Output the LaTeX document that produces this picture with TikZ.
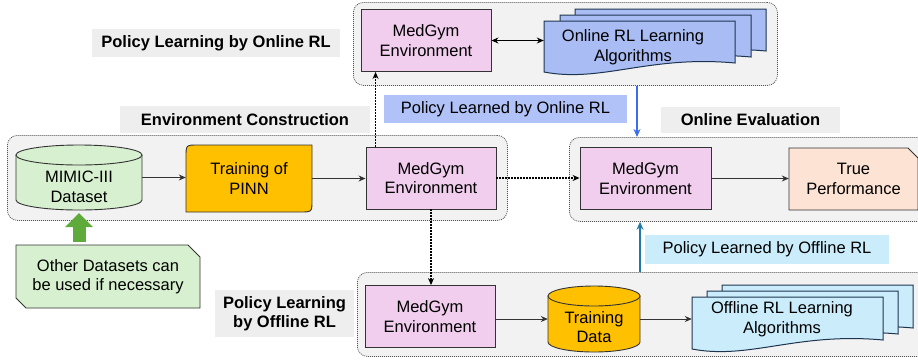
\documentclass[tikz,border=0pt]{standalone}
\usepackage{fontspec}
\setmainfont{Liberation Sans}
\usetikzlibrary{arrows.meta,calc}
\definecolor{pinkc}{HTML}{F2CEEE}
\definecolor{orangec}{HTML}{FFC000}
\definecolor{greenl}{HTML}{D7F1D0}
\definecolor{docblue}{HTML}{A9BCF4}
\definecolor{polblue}{HTML}{B1C2F8}
\definecolor{cyanl}{HTML}{CBEDFB}
\definecolor{peach}{HTML}{FCE3D4}
\definecolor{grpfill}{HTML}{F2F2F2}
\definecolor{labfill}{HTML}{EEEEEE}
\definecolor{linec}{HTML}{333333}
\definecolor{docline}{HTML}{1E3550}
\definecolor{arrblue}{HTML}{3C6CF0}
\definecolor{arrteal}{HTML}{1F78A8}
\definecolor{garrowc}{HTML}{5EAA3A}
\definecolor{grpline}{HTML}{555555}
\newcommand\myNfont{\fontsize{16.5}{19.5}\selectfont}
\newcommand\myBfont{\fontsize{16.5}{19.5}\selectfont\bfseries}
\newcommand\docpage[5]{%
  \pgfmathsetmacro\dXa{#1}\pgfmathsetmacro\dXb{#1+#3}%
  \pgfmathsetmacro\dYb{#2+#4}%
  \pgfmathsetmacro\dXc{#1+0.55*#3}\pgfmathsetmacro\dXd{#1+0.3*#3}%
  \filldraw[docsty, fill=#5] (\dXa,#2) -- (\dXb,#2) -- (\dXb,\dYb-11)
    .. controls (\dXc,\dYb-19) and (\dXd,\dYb+9) .. (\dXa,\dYb-2) -- cycle;}
\newcommand\drawcyl[6]{%
  \pgfmathsetmacro\cLx{#1}\pgfmathsetmacro\cRx{#1+#3}\pgfmathsetmacro\cCx{#1+#3/2}%
  \pgfmathsetmacro\cTy{#2+#5}\pgfmathsetmacro\cBy{#2+#4-#5}%
  \pgfmathsetmacro\cRr{#3/2}\pgfmathsetmacro\cK{0.5523*#5}\pgfmathsetmacro\cKx{0.5523*#3/2}%
  \filldraw[cylsty, fill=#6] (\cLx,\cTy) -- (\cLx,\cBy)
    .. controls (\cLx,\cBy+\cK) and (\cCx-\cKx,\cBy+#5) .. (\cCx,\cBy+#5)
    .. controls (\cCx+\cKx,\cBy+#5) and (\cRx,\cBy+\cK) .. (\cRx,\cBy) -- (\cRx,\cTy) -- cycle;
  \filldraw[cylsty, fill=#6] (\cCx,\cTy) ellipse [x radius=\cRr pt, y radius=#5 pt];}
\tikzset{
  grp/.style={draw=grpline, line width=0.8pt, dash pattern=on 1pt off 1pt, rounded corners=10pt, fill=grpfill, inner sep=0pt, anchor=north west},
  mg/.style={draw=linec, line width=0.9pt, fill=pinkc, minimum width=130pt, minimum height=62pt, align=center, font=\myNfont, inner sep=0pt},
  txt/.style={align=center, font=\myNfont, inner sep=0pt},
  geo/.style={inner sep=0pt},
  lab/.style={fill=labfill, align=center, font=\myBfont, inner sep=0pt},
  shp/.style={draw=linec, line width=0.9pt},
  docsty/.style={draw=docline, line width=1pt},
  cylsty/.style={draw=linec, line width=0.9pt},
  arr/.style={draw=linec, line width=0.9pt, -{Stealth[length=7pt,width=6pt]}},
  dblarr/.style={draw=black, line width=0.9pt, {Stealth[length=7pt,width=6pt]}-{Stealth[length=7pt,width=6pt]}},
  dotarr/.style={draw=black, line width=1.5pt, dash pattern=on 1.5pt off 1.5pt, -{Stealth[length=7pt,width=6pt]}},
  bluearr/.style={draw=arrblue, line width=1.2pt, -{Stealth[length=8pt,width=7pt]}},
  tealarr/.style={draw=arrteal, line width=1.2pt, -{Stealth[length=8pt,width=7pt]}},
  greenarr/.style={draw=garrowc, line width=13pt, -{Triangle[length=14pt,width=28pt,line width=0pt]}},
}
\begin{document}
\begin{tikzpicture}[x=1pt,y=-1pt]
\useasboundingbox (0,0) rectangle (918,360);
\clip (0,0) rectangle (918,360);
% groups
\node[grp, minimum width=424pt, minimum height=83pt] (topgrp) at (353,2) {};
\node[grp, minimum width=500pt, minimum height=85pt] (envgrp) at (7,135) {};
\node[grp, minimum width=370pt, minimum height=84pt] (evalgrp) at (569,137) {};
\node[grp, minimum width=580pt, minimum height=84pt] (botgrp) at (357,272) {};
% labels
\node[lab, minimum width=248pt, minimum height=28pt] (lab1) at (216,43) {Policy Learning by Online RL};
\node[lab, minimum width=250pt, minimum height=27pt] (lab2) at (245,119.5) {Environment Construction};
\node[lab, minimum width=179pt, minimum height=26pt] (lab3) at (750.5,120) {Online Evaluation};
\node[lab, minimum width=139pt, minimum height=47pt] (lab4) at (284.5,313.5) {Policy Learning\\by Offline RL};
\node[txt, fill=polblue, minimum width=243pt, minimum height=28pt] (pol1) at (505.5,109) {Policy Learned by Online RL};
\node[txt, fill=cyanl, minimum width=244pt, minimum height=29pt] (pol2) at (767,249.5) {Policy Learned by Offline RL};
% MedGym boxes
\node[mg] (topmg) at (426,40.5) {MedGym\\Environment};
\node[mg] (midmg) at (431,178) {MedGym\\Environment};
\node[mg, minimum width=131pt] (evalmg) at (645.5,178.5) {MedGym\\Environment};
\node[mg] (botmg) at (430,316.5) {MedGym\\Environment};
% online docs
\docpage{575}{9}{191}{53}{docblue}
\docpage{560}{15}{191}{53}{docblue}
\docpage{544}{21}{191}{53}{docblue}
\node[geo, minimum width=191pt, minimum height=44pt] (onldoc) at (639.5,43) {};
\node[txt] (onltxt) at (633,47) {Online RL Learning\\Algorithms};
% offline docs
\docpage{722}{285}{191}{54}{cyanl}
\docpage{707}{291}{191}{54}{cyanl}
\docpage{692}{297}{191}{54}{cyanl}
\node[geo, minimum width=191pt, minimum height=44pt] (offdoc) at (787.5,319) {};
\node[txt] (offtxt) at (782,319) {Offline RL Learning\\Algorithms};
% MIMIC cylinder
\drawcyl{16}{145}{126}{65}{10}{greenl}
\node[geo, minimum width=126pt, minimum height=65pt] (mimic) at (79,177.5) {};
\node[txt] (mimictxt) at (79,187) {MIMIC-III\\Dataset};
% Training data cylinder
\drawcyl{548}{286}{92}{66}{10}{orangec}
\node[geo, minimum width=92pt, minimum height=66pt] (tdata) at (594,319) {};
\node[txt] (tdatatxt) at (594,327) {Training\\Data};
% Training of PINN
\filldraw[shp, fill=orangec] (186,157) .. controls (186,145) .. (198,145) -- (312,145) -- (312,200)
  .. controls (312,212) .. (300,212) -- (186,212) -- cycle;
\node[txt, minimum width=126pt, minimum height=67pt] (train) at (249,178.5) {Training of\\PINN};
% True performance
\filldraw[shp, fill=peach] (789,148) -- (908,148) -- (918,158) -- (918,210) -- (789,210) -- cycle;
\node[txt, minimum width=129pt, minimum height=62pt] (truep) at (853.5,179) {True\\Performance};
% Other datasets
\filldraw[shp, fill=greenl] (16,245) -- (188,245) -- (200,257) -- (200,308) -- (26,308) -- (16,298) -- cycle;
\node[txt, minimum width=184pt, minimum height=63pt] (other) at (108,276.5) {Other Datasets can\\be used if necessary};
% connectors
\draw[dblarr] (topmg.east) -- (topmg.east -| onldoc.west);
\draw[arr] (mimic.east) -- (mimic.east -| train.west);
\draw[arr] (train.east) -- (train.east -| midmg.west);
\draw[dotarr] ([xshift=10pt]midmg.north west) -- ([xshift=10pt]midmg.north west |- topmg.south);
\draw[dotarr] (midmg.east) -- (midmg.east -| evalmg.west);
\draw[dotarr] (midmg.south) -- (midmg.south |- botmg.north);
\draw[arr] (evalmg.east) -- (evalmg.east -| truep.west);
\coordinate (bx) at (637,0);
\coordinate (tx) at (640,0);
\draw[bluearr] (topgrp.south -| bx) -- (evalgrp.north -| bx);
\draw[tealarr] (botgrp.north -| tx) -- (evalgrp.south -| tx);
\draw[arr] (botmg.east |- tdata) -- (tdata.west);
\draw[arr] (tdata.east) -- (tdata.east -| offdoc.west);
\draw[greenarr] ($(other.north -| mimic.south)+(0,-3)$) -- ($(mimic.south)+(0,3)$);
\end{tikzpicture}
\end{document}
